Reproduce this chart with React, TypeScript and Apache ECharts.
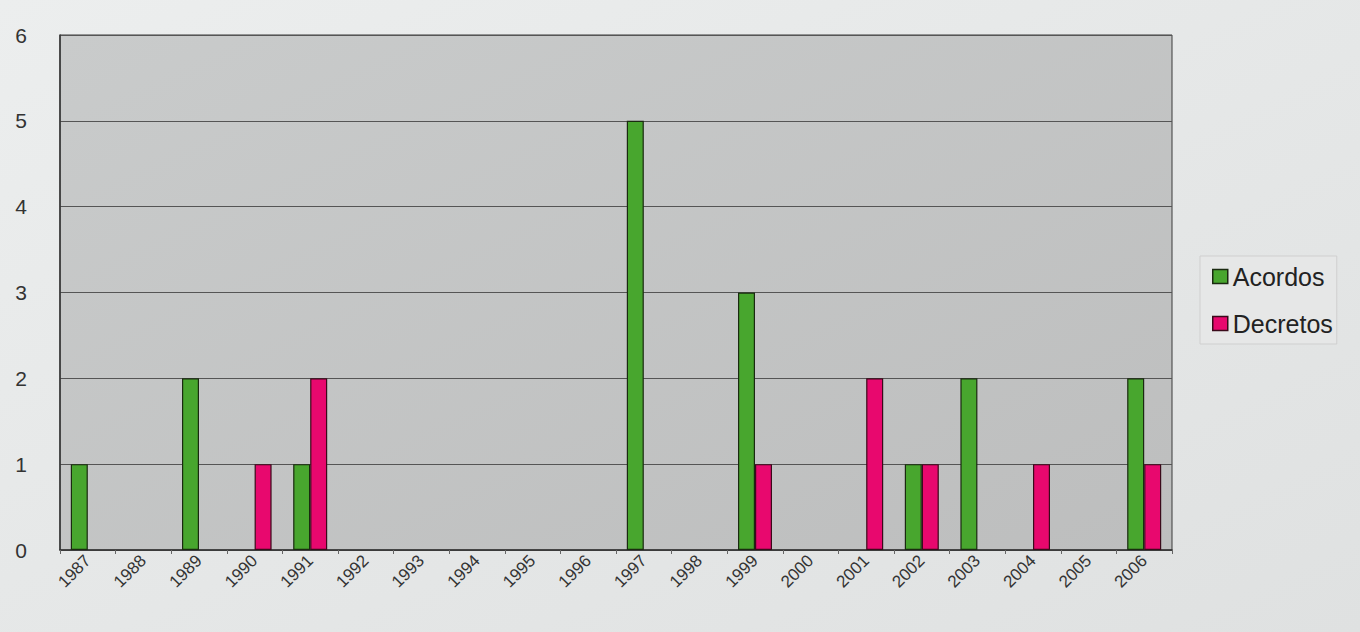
import React, { useEffect, useRef } from "react";
import * as echarts from "echarts";

const years = ["1987","1988","1989","1990","1991","1992","1993","1994","1995","1996","1997","1998","1999","2000","2001","2002","2003","2004","2005","2006"];
const acordos = [1,0,2,0,1,0,0,0,0,0,5,0,3,0,0,1,2,0,0,2];
const decretos = [0,0,0,1,2,0,0,0,0,0,0,0,1,0,2,1,0,1,0,1];
const yTicks = [0,1,2,3,4,5,6];

const hideZero = (arr: number[]) => arr.map((v) => (v === 0 ? null : v));

export default function App() {
  const ref = useRef<HTMLDivElement>(null);
  useEffect(() => {
    if (!ref.current) return;
    const chart = echarts.init(ref.current, null, { renderer: "svg" });
    chart.setOption({
      animation: false,
      backgroundColor: new echarts.graphic.LinearGradient(0, 0, 1, 1, [
        { offset: 0, color: "#eceeee" },
        { offset: 1, color: "#dfe1e1" },
      ]),
      textStyle: { fontFamily: "Liberation Sans, Arial, sans-serif" },
      grid: {
        left: 60, right: 188, top: 35, bottom: 82,
        show: true,
        borderColor: "#3a3a3a",
        borderWidth: 1,
        backgroundColor: new echarts.graphic.LinearGradient(0, 0, 1, 1, [
          { offset: 0, color: "#c9cbcb" },
          { offset: 1, color: "#bdbebe" },
        ]),
      },
      legend: {
        orient: "vertical",
        left: 1200,
        top: 256,
        icon: "rect",
        itemWidth: 15,
        itemHeight: 14,
        itemGap: 22,
        padding: [8, 4, 8, 12],
        backgroundColor: "#e6e7e7",
        borderColor: "#cfcfcf",
        borderWidth: 1,
        textStyle: { fontSize: 25, color: "#222" },
        data: [
          { name: "Acordos", itemStyle: { borderColor: "#1a2a10", borderWidth: 1.5 } },
          { name: "Decretos", itemStyle: { borderColor: "#3a0a1a", borderWidth: 1.5 } },
        ],
      },
      xAxis: {
        type: "category",
        data: years,
        axisLine: { lineStyle: { color: "#333", width: 1.5 } },
        axisTick: { show: true, lineStyle: { color: "#666" }, length: 4 },
        axisLabel: { rotate: 45, fontSize: 17, color: "#333", margin: 8 },
      },
      yAxis: {
        type: "value",
        min: yTicks[0],
        max: yTicks[yTicks.length - 1],
        interval: 1,
        axisLine: { show: true, lineStyle: { color: "#333", width: 1.5 } },
        axisTick: { show: false },
        axisLabel: { fontSize: 21, color: "#333", margin: 33 },
        splitLine: { lineStyle: { color: "#555", width: 1 } },
      },
      series: [
        {
          name: "Acordos",
          type: "bar",
          data: hideZero(acordos),
          barWidth: 17,
          barGap: "0%",
          itemStyle: { color: "#48a62e", borderColor: "#1a2a10", borderWidth: 1.2 },
        },
        {
          name: "Decretos",
          type: "bar",
          data: hideZero(decretos),
          barWidth: 17,
          barGap: "0%",
          itemStyle: { color: "#e8086e", borderColor: "#3a0a1a", borderWidth: 1.2 },
        },
      ],
    });
    return () => chart.dispose();
  }, []);
  return <div ref={ref} style={{ position: "absolute", left: 0, top: 0, width: 1360, height: 632 }} />;
}
